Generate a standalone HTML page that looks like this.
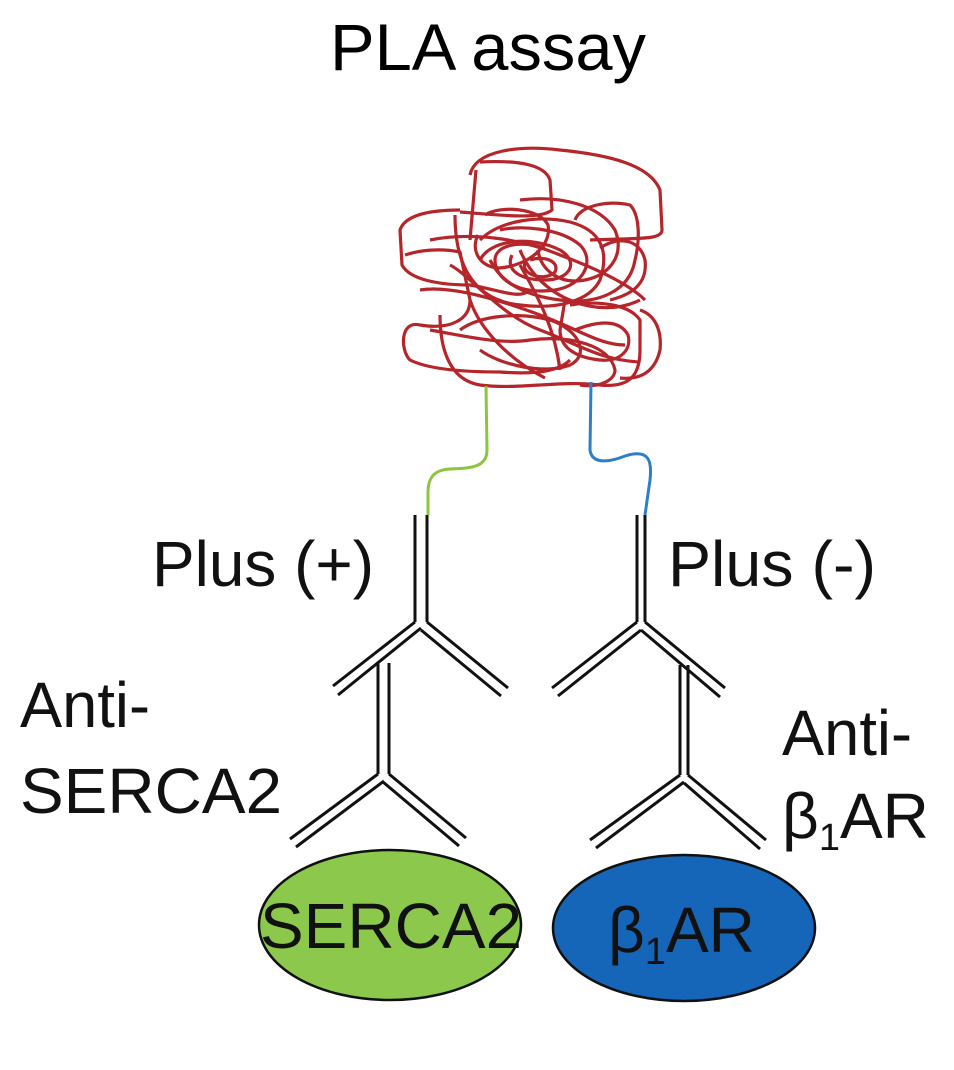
<!DOCTYPE html>
<html><head><meta charset="utf-8"><style>
body{margin:0;background:#fff;}
svg{display:block;font-family:"Liberation Sans",Arial,sans-serif;}
</style></head><body>
<svg width="954" height="1070" viewBox="0 0 954 1070">
<text x="330" y="70" font-size="66" textLength="316" lengthAdjust="spacingAndGlyphs">PLA assay</text>

<g fill="none" stroke="#b5252a" stroke-width="3.2" stroke-linejoin="round">
<path d="M470,175 C475,150 520,145 560,150 C610,155 650,165 660,190 L662,230 C662,240 640,238 590,240"/>
<path d="M476,170 L470,240 M480,162 C520,160 545,165 550,180 L552,210 C540,220 500,215 460,212"/>
<path d="M460,210 C430,210 405,215 400,230 L402,265 C410,280 440,285 470,285 C500,290 520,300 530,290"/>
<path d="M405,255 C420,250 440,248 460,252 L470,300 C470,320 450,330 420,325 C400,320 400,350 410,360 C430,370 470,372 500,372 C540,375 560,370 570,360"/>
<path d="M440,315 C440,350 450,380 480,385 C520,390 560,380 600,385 C630,388 640,375 640,350 L640,320 C630,305 600,300 570,305"/>
<path d="M575,220 C580,205 610,200 630,205 C640,215 640,240 635,260 C630,290 600,305 560,300 C520,295 500,280 490,260"/>
<path d="M455,215 C455,260 470,300 520,305 C560,310 590,300 600,280 C610,250 600,230 570,222 C540,215 500,220 480,240"/>
<path d="M500,230 C520,225 560,228 580,245 C595,260 585,285 555,290 C520,295 495,280 495,260 C495,245 520,240 545,248"/>
<path d="M480,260 C490,240 530,235 560,250 C580,262 570,280 545,280 C520,280 505,270 512,255"/>
<path d="M530,260 C545,255 560,262 555,272 C545,282 520,275 525,262"/>
<path d="M575,330 C600,320 620,320 628,335 C632,350 620,362 600,360 C580,358 560,350 560,330 L565,300"/>
<path d="M430,330 C460,335 500,345 530,340 C570,335 610,345 615,370 C615,380 600,388 580,385"/>
<path d="M420,290 C450,285 500,300 540,315 C580,330 600,345 625,345"/>
<path d="M470,300 C480,330 510,360 545,378 M520,265 C540,300 555,330 560,370"/>
<path d="M640,310 C655,315 662,330 660,350 C655,372 640,380 620,378"/>
<path d="M485,215 C500,205 540,208 548,225 C552,245 530,265 500,268 C480,268 470,250 478,235"/>
<path d="M520,200 C560,195 600,205 615,230 C625,255 610,275 585,280 C560,285 540,270 538,250"/>
<path d="M430,240 C470,232 520,238 560,255 C600,270 630,285 645,300"/>
<path d="M520,250 C540,300 600,320 640,300 M450,265 C470,275 500,315 540,330 C580,345 600,360 640,362"/>
<path d="M460,330 C480,315 520,312 550,320 C580,330 590,355 570,365 C545,375 500,365 480,350"/>
<path d="M600,248 C620,235 640,240 645,260 C648,285 630,295 610,300"/>
</g>

<path d="M486,386 L487,450 C487,468 470,468 450,469 C432,470 428,480 428,492 L428,515" fill="none" stroke="#8cc63f" stroke-width="3"/>
<path d="M591,382 L590,450 C592,465 610,462 625,456 C650,448 652,462 650,480 L645,515" fill="none" stroke="#2e7fc8" stroke-width="3"/>

<g stroke="#111" stroke-width="3" fill="none">
<g>
<line x1="415" y1="515" x2="415" y2="622"/><line x1="427" y1="515" x2="427" y2="622"/>
<line x1="415" y1="622" x2="333" y2="686"/><line x1="421" y1="628" x2="338" y2="695"/>
<line x1="427" y1="622" x2="508" y2="688"/><line x1="421" y1="630" x2="501" y2="696"/>
</g>
<g>
<line x1="378" y1="663" x2="378" y2="774"/><line x1="389" y1="663" x2="389" y2="774"/>
<line x1="378" y1="774" x2="290" y2="839"/><line x1="384" y1="781" x2="296" y2="847"/>
<line x1="389" y1="774" x2="466" y2="838"/><line x1="383" y1="782" x2="459" y2="846"/>
</g>
<g>
<line x1="637" y1="515" x2="637" y2="622"/><line x1="645" y1="515" x2="645" y2="622"/>
<line x1="637" y1="622" x2="552" y2="688"/><line x1="641" y1="630" x2="558" y2="696"/>
<line x1="645" y1="622" x2="725" y2="688"/><line x1="641" y1="630" x2="720" y2="697"/>
</g>
<g>
<line x1="680" y1="665" x2="680" y2="775"/><line x1="688" y1="665" x2="688" y2="775"/>
<line x1="680" y1="775" x2="590" y2="840"/><line x1="684" y1="782" x2="596" y2="848"/>
<line x1="688" y1="775" x2="766" y2="840"/><line x1="684" y1="783" x2="760" y2="849"/>
</g>
</g>

<ellipse cx="390" cy="925" rx="131" ry="75" fill="#8cc84b" stroke="#111" stroke-width="2.5"/>
<ellipse cx="684" cy="928" rx="131" ry="73" fill="#1565b8" stroke="#111" stroke-width="2.5"/>

<g font-size="64" fill="#111">
<text x="152" y="586" textLength="222" lengthAdjust="spacingAndGlyphs">Plus (+)</text>
<text x="668" y="586" textLength="208" lengthAdjust="spacingAndGlyphs">Plus (-)</text>
<text x="20" y="727" textLength="130" lengthAdjust="spacingAndGlyphs">Anti-</text>
<text x="20" y="813" textLength="262" lengthAdjust="spacingAndGlyphs">SERCA2</text>
<text x="782" y="755" textLength="130" lengthAdjust="spacingAndGlyphs">Anti-</text>
<text x="782" y="838">β<tspan font-size="38" dy="12">1</tspan><tspan dy="-12">AR</tspan></text>
<text x="260" y="948" textLength="262" lengthAdjust="spacingAndGlyphs">SERCA2</text>
<text x="608" y="952">β<tspan font-size="38" dy="12">1</tspan><tspan dy="-12">AR</tspan></text>
</g>
</svg>
</body></html>
